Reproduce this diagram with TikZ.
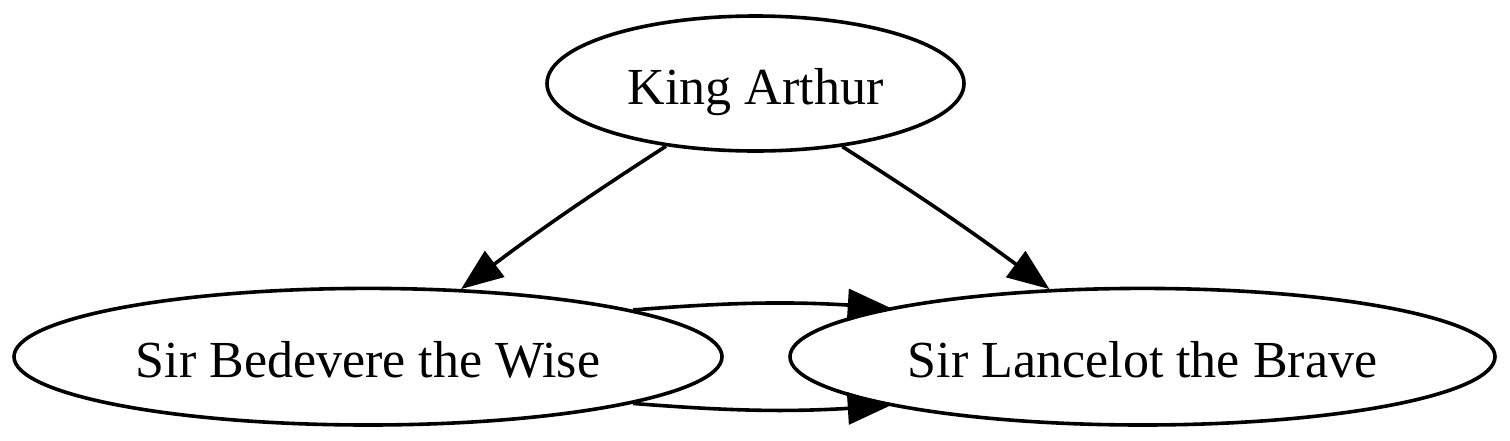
\documentclass[tikz,border=0pt]{standalone}
\usepackage{fontspec}
\setmainfont{Liberation Serif}
\usetikzlibrary{shapes.geometric,arrows.meta}
\newcommand{\lowtext}[2]{\raisebox{-#1}[0pt][0pt]{#2}}
\begin{document}
\begin{tikzpicture}[x=0.5pt,y=-0.5pt,
  knight/.style={draw, ellipse, line width=1.8pt, inner sep=0pt,
    font=\fontsize{26}{30}\selectfont},
  edge/.style={line width=1.8pt, -{Triangle[length=21pt,width=16pt]}}]
\useasboundingbox (0,0) rectangle (1510,440);
\node[knight, minimum width=208.5pt, minimum height=67.5pt] (ka) at (755.5,83.5) {\lowtext{10.5pt}{King Arthur}};
\node[knight, minimum width=354pt, minimum height=68.3pt] (bed) at (368,356.7) {\lowtext{10.3pt}{Sir Bedevere the Wise}};
\node[knight, minimum width=352.5pt, minimum height=68.3pt] (lan) at (1142.5,356.7) {\lowtext{10.3pt}{Sir Lancelot the Brave}};
\draw[edge] (ka.215.5) to[bend right=2] (bed.36);
\draw[edge] (ka.324.5) to[bend left=2] (lan.144);
\draw[edge] (bed.10.5) to[bend left=4] (lan.169.5);
\draw[edge] (bed.-10.5) to[bend right=4] (lan.-169.5);
\end{tikzpicture}
\end{document}
